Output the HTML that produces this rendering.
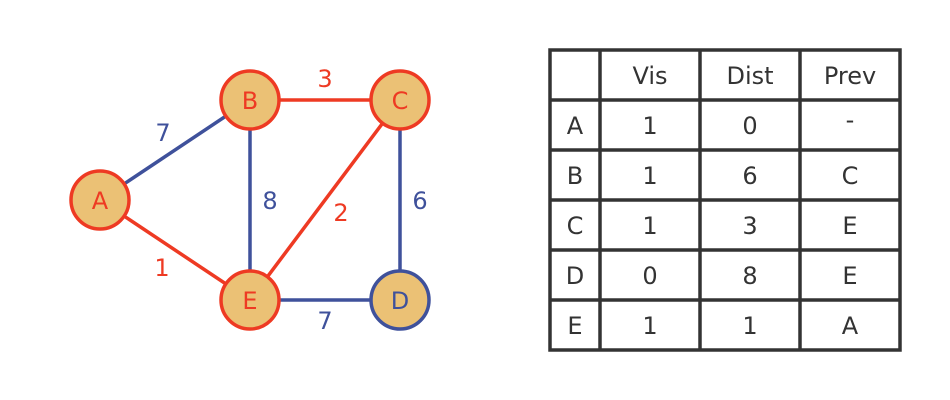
<!DOCTYPE html>
<html><head><meta charset="utf-8"><style>
html,body{margin:0;padding:0;background:#fff;width:950px;height:400px;overflow:hidden}
text{font-family:"DejaVu Sans","Liberation Sans",sans-serif;}
</style></head><body>
<svg width="950" height="400" viewBox="0 0 950 400" xmlns="http://www.w3.org/2000/svg">
<g stroke-width="3.5" fill="none">
<line x1="100" y1="200" x2="250" y2="100" stroke="#3f519b"/>
<line x1="100" y1="200" x2="250" y2="300" stroke="#ee3a23"/>
<line x1="250" y1="100" x2="400" y2="100" stroke="#ee3a23"/>
<line x1="250" y1="100" x2="250" y2="300" stroke="#3f519b"/>
<line x1="400" y1="100" x2="250" y2="300" stroke="#ee3a23"/>
<line x1="400" y1="100" x2="400" y2="300" stroke="#3f519b"/>
<line x1="250" y1="300" x2="400" y2="300" stroke="#3f519b"/>
</g>
<g font-size="24" text-anchor="middle" dominant-baseline="central">
<text x="163" y="133" fill="#3f519b">7</text>
<text x="162" y="268" fill="#ee3a23">1</text>
<text x="325" y="79" fill="#ee3a23">3</text>
<text x="270" y="201" fill="#3f519b">8</text>
<text x="341" y="213" fill="#ee3a23">2</text>
<text x="420" y="201" fill="#3f519b">6</text>
<text x="325" y="321" fill="#3f519b">7</text>
</g>
<g stroke-width="3.5" fill="#ebc175">
<circle cx="100" cy="200" r="29" stroke="#ee3a23"/>
<circle cx="250" cy="100" r="29" stroke="#ee3a23"/>
<circle cx="400" cy="100" r="29" stroke="#ee3a23"/>
<circle cx="400" cy="300" r="29" stroke="#3f519b"/>
<circle cx="250" cy="300" r="29" stroke="#ee3a23"/>
</g>
<g font-size="24" text-anchor="middle" dominant-baseline="central">
<text x="100" y="201" fill="#ee3a23">A</text>
<text x="250" y="101" fill="#ee3a23">B</text>
<text x="400" y="101" fill="#ee3a23">C</text>
<text x="400" y="301" fill="#3f519b">D</text>
<text x="250" y="301" fill="#ee3a23">E</text>
</g>
<g stroke="#333" stroke-width="3.5" fill="none">
<rect x="550" y="50" width="350" height="300"/>
<line x1="600" y1="50" x2="600" y2="350"/>
<line x1="700" y1="50" x2="700" y2="350"/>
<line x1="800" y1="50" x2="800" y2="350"/>
<line x1="550" y1="100" x2="900" y2="100"/>
<line x1="550" y1="150" x2="900" y2="150"/>
<line x1="550" y1="200" x2="900" y2="200"/>
<line x1="550" y1="250" x2="900" y2="250"/>
<line x1="550" y1="300" x2="900" y2="300"/>
</g>
<g font-size="24" text-anchor="middle" dominant-baseline="central" fill="#333">
<text x="650" y="76">Vis</text><text x="750" y="76">Dist</text><text x="850" y="76">Prev</text>
<text x="575" y="126">A</text><text x="650" y="126">1</text><text x="750" y="126">0</text><text x="850" y="120">-</text>
<text x="575" y="176">B</text><text x="650" y="176">1</text><text x="750" y="176">6</text><text x="850" y="176">C</text>
<text x="575" y="226">C</text><text x="650" y="226">1</text><text x="750" y="226">3</text><text x="850" y="226">E</text>
<text x="575" y="276">D</text><text x="650" y="276">0</text><text x="750" y="276">8</text><text x="850" y="276">E</text>
<text x="575" y="326">E</text><text x="650" y="326">1</text><text x="750" y="326">1</text><text x="850" y="326">A</text>
</g>
</svg>
</body></html>
